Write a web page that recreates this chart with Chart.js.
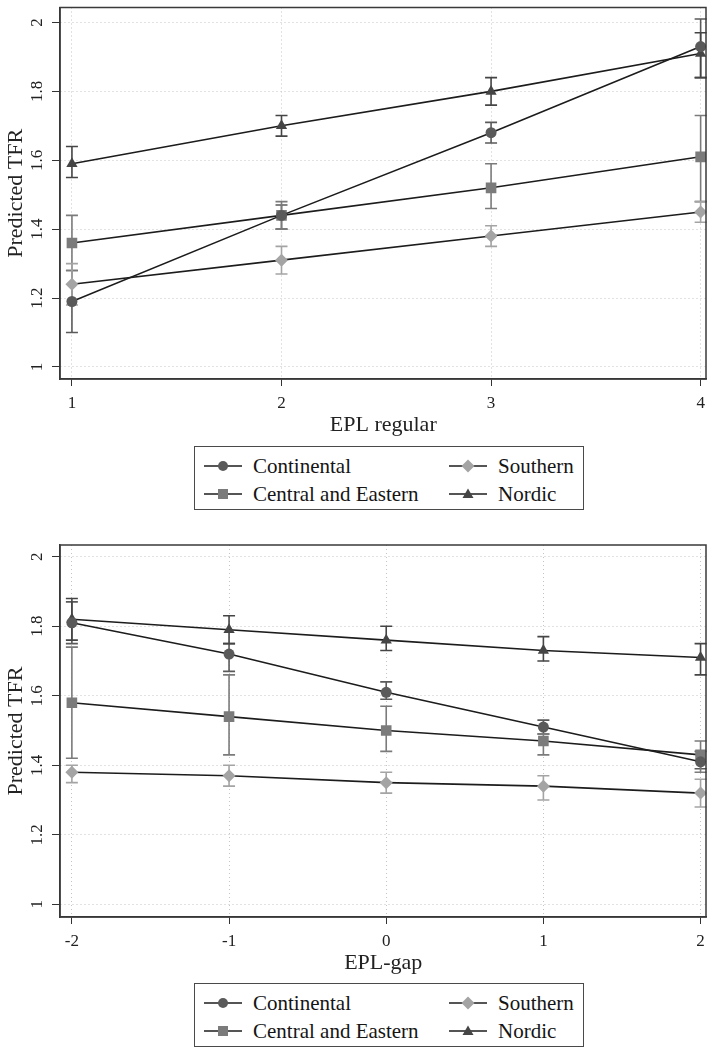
<!DOCTYPE html>
<html>
<head>
<meta charset="utf-8">
<script src="https://cdn.jsdelivr.net/npm/chart.js@4/dist/chart.umd.min.js"></script>
<style>
  html, body { margin: 0; padding: 0; background: #fff; }
  body { width: 714px; height: 1047px; position: relative; overflow: hidden; font-family: "Liberation Serif", "Times New Roman", serif; }
  .panel { position: absolute; left: 0; width: 714px; }
  .legend { position: absolute; left: 194px; width: 390px; height: 64px; border: 1.5px solid #4a4a4a; box-sizing: border-box; background: #fff; }
  .item { position: absolute; height: 24px; display: flex; align-items: center; font-size: 21px; color: #151515; white-space: nowrap; }
  .item svg { margin-right: 11px; }
</style>
</head>
<body>
<div class="panel" style="top:0;height:440px"><canvas id="chartRegular"></canvas></div>
<div class="legend" id="legendRegular" style="top:446px"></div>
<div class="panel" style="top:520px;height:458px"><canvas id="chartGap"></canvas></div>
<div class="legend" id="legendGap" style="top:983px"></div>
<script>
const seriesNames = ['Continental', 'Central and Eastern', 'Southern', 'Nordic'];
const yTicks = [1, 1.2, 1.4, 1.6, 1.8, 2];

// panel 1: EPL regular
const eplRegular = [1, 2, 3, 4];
const regContinental   = [1.19, 1.44, 1.68, 1.93];
const regContinentalLo = [1.10, 1.40, 1.65, 1.84];
const regContinentalHi = [1.28, 1.47, 1.71, 2.01];
const regCentral   = [1.36, 1.44, 1.52, 1.61];
const regCentralLo = [1.28, 1.40, 1.46, 1.48];
const regCentralHi = [1.44, 1.48, 1.59, 1.73];
const regSouthern   = [1.24, 1.31, 1.38, 1.45];
const regSouthernLo = [1.18, 1.27, 1.35, 1.42];
const regSouthernHi = [1.30, 1.35, 1.41, 1.48];
const regNordic   = [1.59, 1.70, 1.80, 1.91];
const regNordicLo = [1.55, 1.67, 1.76, 1.84];
const regNordicHi = [1.64, 1.73, 1.84, 1.97];

// panel 2: EPL-gap
const eplGap = [-2, -1, 0, 1, 2];
const gapContinental   = [1.81, 1.72, 1.61, 1.51, 1.41];
const gapContinentalLo = [1.75, 1.67, 1.59, 1.49, 1.39];
const gapContinentalHi = [1.87, 1.75, 1.64, 1.53, 1.44];
const gapCentral   = [1.58, 1.54, 1.50, 1.47, 1.43];
const gapCentralLo = [1.42, 1.43, 1.44, 1.43, 1.38];
const gapCentralHi = [1.74, 1.66, 1.57, 1.49, 1.47];
const gapSouthern   = [1.38, 1.37, 1.35, 1.34, 1.32];
const gapSouthernLo = [1.35, 1.34, 1.32, 1.30, 1.28];
const gapSouthernHi = [1.40, 1.40, 1.38, 1.37, 1.36];
const gapNordic   = [1.82, 1.79, 1.76, 1.73, 1.71];
const gapNordicLo = [1.76, 1.75, 1.73, 1.70, 1.66];
const gapNordicHi = [1.88, 1.83, 1.80, 1.77, 1.75];

const markerColors = ['#5a5a5a', '#7b7b7b', '#a4a4a4', '#454545'];
const markerStyles = ['circle', 'rect', 'rectRot', 'triangle'];
const markerSizes = [5.5, 7.5, 6.5, 6.5];
const FONT = '"Liberation Serif", "Times New Roman", serif';

const errorBars = {
    id: 'errorBars',
    beforeDatasetsDraw(chart) {
        const {ctx, scales: {x, y}} = chart;
        chart.data.datasets.forEach(ds => {
            ctx.save();
            ctx.strokeStyle = ds.pointBackgroundColor;
            ctx.lineWidth = 1.6;
            ds.data.forEach((p, i) => {
                const px = x.getPixelForValue(p.x);
                const top = y.getPixelForValue(ds.hi[i]);
                const bot = y.getPixelForValue(ds.lo[i]);
                ctx.beginPath();
                ctx.moveTo(px, top); ctx.lineTo(px, bot);
                ctx.moveTo(px - 6, top); ctx.lineTo(px + 6, top);
                ctx.moveTo(px - 6, bot); ctx.lineTo(px + 6, bot);
                ctx.stroke();
            });
            ctx.restore();
        });
    }
};

const frame = {
    id: 'frame',
    afterDraw(chart) {
        const {ctx, chartArea: a} = chart;
        ctx.save();
        ctx.strokeStyle = '#3a3a3a';
        ctx.lineWidth = 1.5;
        ctx.strokeRect(a.left, a.top, a.right - a.left - 0.5, a.bottom - a.top);
        ctx.restore();
    }
};

function makeChart(id, xs, series, xTitle, xRange, yRange, padTop) {
    const datasets = series.map((s, i) => ({
        label: seriesNames[i],
        data: xs.map((x, j) => ({x: x, y: s.v[j]})),
        lo: s.lo,
        hi: s.hi,
        borderColor: '#1c1c1c',
        borderWidth: 1.6,
        pointStyle: markerStyles[i],
        pointRadius: markerSizes[i],
        pointBackgroundColor: markerColors[i],
        pointBorderColor: markerColors[i],
        pointBorderWidth: 0,
        tension: 0
    }));
    return new Chart(document.getElementById(id), {
        type: 'line',
        data: {datasets},
        plugins: [errorBars, frame],
        options: {
            responsive: true,
            maintainAspectRatio: false,
            animation: false,
            layout: {padding: {top: padTop, right: 1, left: 0, bottom: 0}},
            plugins: {legend: {display: false}, tooltip: {enabled: false}},
            scales: {
                x: {
                    type: 'linear',
                    min: xRange[0],
                    max: xRange[1],
                    afterBuildTicks: s => { s.ticks = xs.map(v => ({value: v})); },
                    afterFit: s => { s.height = 61; s.paddingLeft = 0; s.paddingRight = 0; },
                    ticks: {
                        autoSkip: false,
                        maxRotation: 0,
                        padding: 7,
                        color: '#222',
                        font: {family: FONT, size: 17},
                        callback: v => String(v)
                    },
                    grid: {color: '#c4c4c4', lineWidth: 1, tickLength: 7, tickColor: '#333', tickBorderDash: []},
                    border: {color: '#333', width: 1.5, dash: [1, 3]},
                    title: {display: true, text: xTitle, color: '#222', font: {family: FONT, size: 22}, padding: {top: 0, bottom: 2}}
                },
                y: {
                    min: yRange[0],
                    max: yRange[1],
                    afterBuildTicks: s => { s.ticks = yTicks.map(v => ({value: v})); },
                    afterFit: s => { s.width = 60; s.paddingTop = 0; s.paddingBottom = 0; },
                    ticks: {
                        autoSkip: false,
                        minRotation: 90,
                        maxRotation: 90,
                        crossAlign: 'center',
                        padding: 4,
                        color: '#222',
                        font: {family: FONT, size: 17},
                        callback: v => String(+v.toFixed(1))
                    },
                    grid: {color: '#c4c4c4', lineWidth: 1, tickLength: 8, tickColor: '#333', tickBorderDash: []},
                    border: {color: '#333', width: 1.5, dash: [1, 3]},
                    title: {display: true, text: 'Predicted TFR', color: '#222', font: {family: FONT, size: 22}, padding: {top: 3, bottom: 0}}
                }
            }
        }
    });
}

function symbolSvg(i) {
    const c = markerColors[i];
    let m = '';
    if (markerStyles[i] === 'circle') m = `<circle cx="19" cy="10" r="5" fill="${c}"/>`;
    else if (markerStyles[i] === 'rect') m = `<rect x="14" y="5" width="10" height="10" fill="${c}"/>`;
    else if (markerStyles[i] === 'rectRot') m = `<polygon points="12.5,10 19,3.5 25.5,10 19,16.5" fill="${c}"/>`;
    else m = `<polygon points="19,4.5 24.5,14 13.5,14" fill="${c}"/>`;
    return `<svg width="38" height="20" viewBox="0 0 38 20"><line x1="0" y1="10" x2="38" y2="10" stroke="#1c1c1c" stroke-width="1.6"/>${m}</svg>`;
}

function makeLegend(id) {
    const slots = [[9, 7], [9, 35], [254, 7], [254, 35]];
    const box = document.getElementById(id);
    seriesNames.forEach((name, i) => {
        const d = document.createElement('div');
        d.className = 'item';
        d.style.left = slots[i][0] + 'px';
        d.style.top = slots[i][1] + 'px';
        d.innerHTML = symbolSvg(i) + '<span>' + name + '</span>';
        box.appendChild(d);
    });
}

makeChart('chartRegular', eplRegular, [
    {v: regContinental, lo: regContinentalLo, hi: regContinentalHi},
    {v: regCentral, lo: regCentralLo, hi: regCentralHi},
    {v: regSouthern, lo: regSouthernLo, hi: regSouthernHi},
    {v: regNordic, lo: regNordicLo, hi: regNordicHi}
], 'EPL regular', [0.943, 4.028], [0.965, 2.0435], 7);

makeChart('chartGap', eplGap, [
    {v: gapContinental, lo: gapContinentalLo, hi: gapContinentalHi},
    {v: gapCentral, lo: gapCentralLo, hi: gapCentralHi},
    {v: gapSouthern, lo: gapSouthernLo, hi: gapSouthernHi},
    {v: gapNordic, lo: gapNordicLo, hi: gapNordicHi}
], 'EPL-gap', [-2.0756, 2.0378], [0.9635, 2.0337], 25);

makeLegend('legendRegular');
makeLegend('legendGap');
</script>
</body>
</html>
